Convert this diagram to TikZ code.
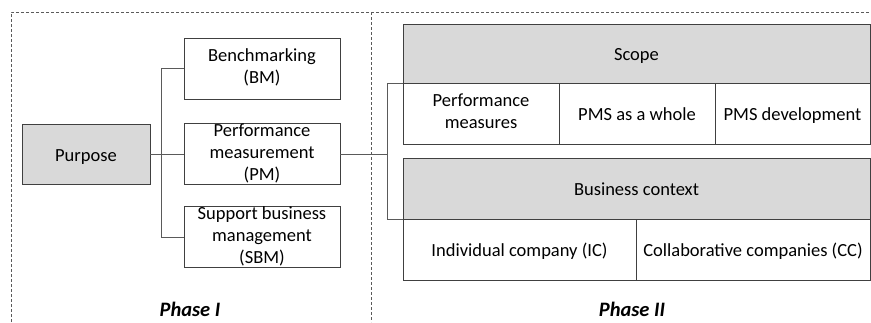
\documentclass[tikz,border=0pt]{standalone}
\usepackage{fontspec}
\setmainfont{Carlito}
\usetikzlibrary{positioning}
\definecolor{boxgray}{RGB}{217,217,217}
\definecolor{edgegray}{RGB}{64,64,64}
\definecolor{linegray}{RGB}{90,90,90}
\newcommand{\cellstrut}{\rule[-4pt]{0pt}{22pt}}

\begin{document}
\begin{tikzpicture}[x=1pt,y=-1pt,
  every node/.style={font=\fontsize{18.5}{22}\selectfont, align=center, inner sep=0pt,
    execute at begin node=\cellstrut, execute at end node=\cellstrut},
  blk/.style={draw=edgegray, line width=0.9pt, minimum height=60pt},
  head/.style={blk, fill=boxgray},
  frame/.style={draw=linegray, dashed, dash pattern=on 3pt off 2pt, line width=0.6pt},
  wire/.style={draw=linegray, line width=0.9pt},
  phase/.style={font=\fontsize{20.5}{22}\selectfont\bfseries\itshape}]
\useasboundingbox (0,0) rectangle (871,322);
% the two phases
\draw[frame] (11,322) -- (11,12) -- (871,12);
\draw[frame] (371,12) -- (371,322);
% phase I
\draw (86,154) node (purpose) [head, minimum width=128pt] {Purpose};
\draw (262,68.5) node (bm) [blk, minimum width=156pt, minimum height=61pt] {Benchmarking\\(BM)};
\draw (262,154) node (pm) [blk, minimum width=156pt] {Performance\\measurement\\(PM)};
\draw (262,237) node (sbm) [blk, minimum width=156pt] {Support business\\management\\(SBM)};
% phase II
\draw (636.5,53.5) node (scope) [head, minimum width=467pt, minimum height=59pt] {Scope};
\draw (481,113.5) node (meas) [blk, minimum width=156pt, minimum height=61pt] {Performance\\measures};
\draw (637,113.5) node (whole) [blk, minimum width=156pt, minimum height=61pt] {PMS as a whole};
\draw (792.5,113.5) node (dev) [blk, minimum width=155pt, minimum height=61pt] {PMS development};
\draw (636.5,188.5) node (context) [head, minimum width=467pt, minimum height=61pt] {Business context};
\draw (519.5,249.5) node (ic) [blk, minimum width=233pt, minimum height=61pt] {Individual company (IC)};
\draw (753,249.5) node (cc) [blk, minimum width=234pt, minimum height=61pt] {Collaborative companies (CC)};
% brackets
\coordinate (jl) at (161,154);
\coordinate (jr) at (387,154);
\draw[wire] (purpose.east) -- (pm.west);
\draw[wire] (bm.west) -- (bm.west -| jl) -- (sbm.west -| jl) -- (sbm.west);
\draw[wire] (pm.east) -- (jr);
\draw[wire] (scope.south west) -- (scope.south west -| jr) -- (context.south west -| jr) -- (context.south west);
% labels
\node (ph1) [phase] at (190,309) {Phase I};
\node (ph2) [phase] at (632,309) {Phase II};
\end{tikzpicture}
\end{document}
